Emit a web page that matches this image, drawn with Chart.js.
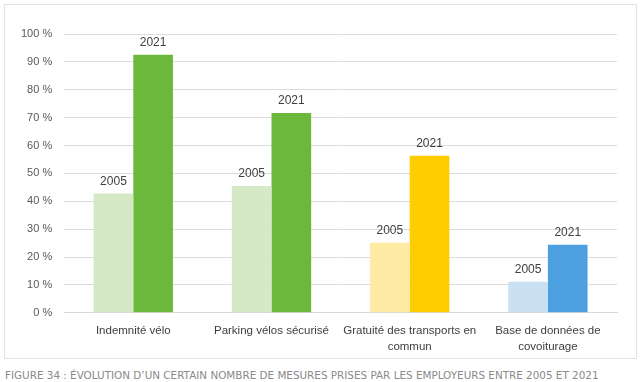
<!DOCTYPE html>
<html><head><meta charset="utf-8">
<script src="https://cdn.jsdelivr.net/npm/chart.js@4/dist/chart.umd.min.js"></script>
<style>
html,body{margin:0;padding:0;background:#fff;}
#box{position:absolute;left:4px;top:4px;width:631px;height:353px;border:1px solid #e3e3e3;background:#fff;}
#wrap{position:absolute;left:0;top:0;width:630px;height:352px;}
#cap{position:absolute;left:5px;top:369px;font-family:"DejaVu Sans",sans-serif;font-size:10.4px;color:#8a8a8a;letter-spacing:0px;white-space:nowrap;}
</style></head><body>
<div id="box"><div id="wrap"><canvas id="c"></canvas></div></div>
<div id="cap">FIGURE 34 : ÉVOLUTION D’UN CERTAIN NOMBRE DE MESURES PRISES PAR LES EMPLOYEURS ENTRE 2005 ET 2021</div>
<script>
const categories = [["Indemnité vélo"],["Parking vélos sécurisé"],["Gratuité des transports en","commun"],["Base de données de","covoiturage"]];
const series2005 = [42.8, 45.5, 25.1, 11.1];
const series2021 = [92.6, 71.7, 56.3, 24.4];
const seriesNames = ["2005","2021"];
const colors2005 = ["#d5e9c6","#d5e9c6","#fdeaa3","#c9e0f3"];
const colors2021 = ["#6cb83c","#6cb83c","#ffcc00","#4da0df"];
const yTicks = [0,10,20,30,40,50,60,70,80,90,100];

const labelPlugin = {
  id:'barLabels',
  afterDatasetsDraw(chart){
    const ctx = chart.ctx;
    ctx.save();
    ctx.font = '12px "Liberation Sans", sans-serif';
    ctx.fillStyle = '#404040';
    ctx.textAlign = 'center';
    ctx.textBaseline = 'bottom';
    chart.data.datasets.forEach((ds,i)=>{
      chart.getDatasetMeta(i).data.forEach(el=>{
        ctx.fillText(ds.label, el.x, el.y - 6);
      });
    });
    ctx.restore();
  }
};

new Chart(document.getElementById('c'),{
  type:'bar',
  data:{
    labels:categories,
    datasets:[
      {label:seriesNames[0],data:series2005,backgroundColor:colors2005,barPercentage:1,categoryPercentage:0.574},
      {label:seriesNames[1],data:series2021,backgroundColor:colors2021,barPercentage:1,categoryPercentage:0.574}
    ]
  },
  options:{
    responsive:true,maintainAspectRatio:false,animation:false,
    layout:{padding:{left:4,right:18,top:29,bottom:0}},
    plugins:{legend:{display:false},tooltip:{enabled:false}},
    scales:{
      x:{grid:{display:false},border:{color:'#d9d9d9'},
         ticks:{color:'#404040',font:{family:'"Liberation Sans", sans-serif',size:11.5,lineHeight:1.4},padding:2,maxRotation:0}},
      y:{min:0,max:100,
         afterBuildTicks(ax){ax.ticks = yTicks.map(v=>({value:v}));},
         grid:{color:'#dcdcdc',lineWidth:1,drawTicks:false},border:{display:false},
         ticks:{color:'#595959',font:{family:'"Liberation Sans", sans-serif',size:11},padding:12,
           callback:v=>v+' %'}}
    }
  },
  plugins:[labelPlugin]
});
</script>
</body></html>
